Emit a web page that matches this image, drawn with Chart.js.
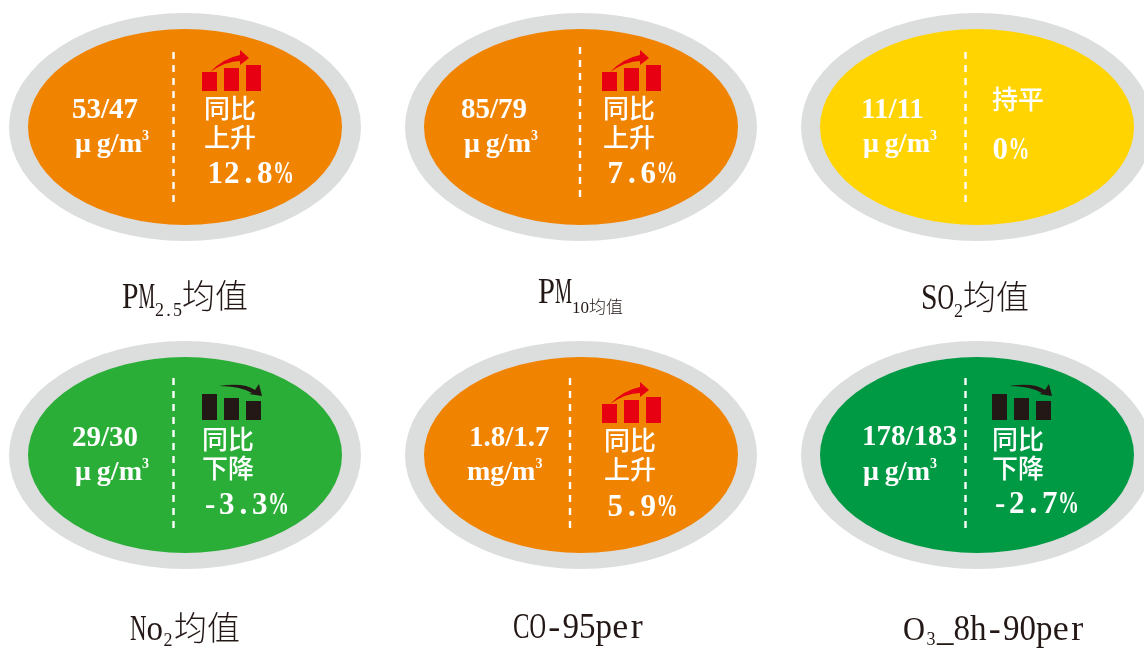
<!DOCTYPE html>
<html>
<head>
<meta charset="utf-8">
<style>
  html, body { margin: 0; padding: 0; background: #fff; overflow: hidden; }
  #page { position: relative; width: 1144px; height: 648px; overflow: hidden; }
  canvas { position: absolute; left: 0; top: 0; }
</style>
<script src="https://cdn.jsdelivr.net/npm/chart.js@4"></script>
</head>
<body>
<div id="page"></div>
<script>
// values
const currentValues = ["53", "85", "11", "29", "1.8", "178"];
const previousValues = ["47", "79", "11", "30", "1.7", "183"];
const changeValues = ["12.8", "7.6", "0", "-3.3", "5.9", "-2.7"];
const units = ["μg", "μg", "μg", "μg", "mg", "μg"];
const trendLines = [
  ["同比", "上升"], ["同比", "上升"], ["持平"],
  ["同比", "下降"], ["同比", "上升"], ["同比", "下降"]
];
const iconCategories = ["a", "b", "c"];
const iconValues = [
  [19, 23, 26], [19, 23, 26], [],
  [26, 22, 19], [19, 23, 26], [26, 22, 19]
];
const iconDirections = ["up", "up", "", "down", "up", "down"];
const captions = [
  [["PM", "big"], ["2.5", "sub"], ["均值", "cjk"]],
  [["PM", "bigHigh"], ["10", "subSerif"], ["均值", "cjkSmall"]],
  [["SO", "big"], ["2", "sub"], ["均值", "cjk"]],
  [["No", "big"], ["2", "subGap"], ["均值", "cjk"]],
  [["CO-95per", "big"]],
  [["O", "bigWide"], ["3", "subWide"], ["_8h-90per", "big"]]
];

// page layout, one row per tile
const fills = ["#F08300", "#F08300", "#FFD400", "#2BAE38", "#F08300", "#009A44"];
const tileLayout = [
  { cx: 185, cy: 127, dashX: 173.5, dashY: 52, iconX: 202, iconY: 91, valX: 72, valY: 118, unitX: 75, unitY: 152, textX: 204, textY: [118, 147], pctX: 207, pctY: 183, capX: 122, capY: 308 },
  { cx: 581, cy: 127, dashX: 580, dashY: 47, iconX: 602, iconY: 91, valX: 461, valY: 118, unitX: 464, unitY: 152, textX: 603, textY: [118, 147], pctX: 607, pctY: 183, capX: 538, capY: 308 },
  { cx: 977, cy: 127, dashX: 965.5, dashY: 52, iconX: 0, iconY: 0, valX: 861, valY: 118, unitX: 863, unitY: 152, textX: 992, textY: [109], pctX: 992, pctY: 159, capX: 921, capY: 309 },
  { cx: 185, cy: 455, dashX: 173.5, dashY: 378, iconX: 202, iconY: 420, valX: 72, valY: 446, unitX: 75, unitY: 480, textX: 202, textY: [449, 478], pctX: 202, pctY: 514, capX: 130, capY: 640 },
  { cx: 581, cy: 455, dashX: 570, dashY: 378, iconX: 602, iconY: 423, valX: 469, valY: 446, unitX: 467, unitY: 480, textX: 604, textY: [450, 479], pctX: 607, pctY: 516, capX: 513, capY: 638 },
  { cx: 977, cy: 455, dashX: 965.5, dashY: 378, iconX: 992, iconY: 420, valX: 862, valY: 445, unitX: 863, unitY: 480, textX: 992, textY: [449, 478], pctX: 992, pctY: 513, capX: 903, capY: 640 }
];
const captionStyles = {
  big: { font: "36px 'Liberation Serif'", cell: 16.5, dy: 0 },
  bigHigh: { font: "36px 'Liberation Serif'", cell: 17, dy: -5 },
  bigWide: { font: "34px 'Liberation Serif'", cell: 22, dy: 0 },
  sub: { font: "18px 'Liberation Serif'", cell: 9, dy: 8 },
  subGap: { font: "18px 'Liberation Serif'", cell: 10, dy: 6, gap: 1 },
  subWide: { font: "18px 'Liberation Serif'", cell: 12, dy: 5 },
  subSerif: { font: "17px 'Liberation Serif'", dy: 5 },
  cjk: { font: "300 33px 'Noto Sans CJK SC'", dy: 0 },
  cjkSmall: { font: "300 17px 'Noto Sans CJK SC'", dy: 5 }
};
const SERIF_BOLD = "bold 29px 'Liberation Serif'";
const UNIT_BOLD = "bold 28px 'Liberation Serif'";
const PCT_BOLD = "bold 31px 'Liberation Serif'";
const INK = "#231815";
const RED = "#E60012";

// draws text runs one after the other, a run with a cell is set monospaced
function drawRuns(ctx, x, y, runs) {
  runs.forEach((run) => {
    ctx.save();
    ctx.font = run.font;
    const by = y + (run.dy || 0);
    if (run.cell) {
      for (const ch of run.text) {
        const w = ctx.measureText(ch).width;
        const s = Math.min(1, run.cell / w);
        ctx.save();
        ctx.translate(x + (run.cell - w * s) / 2, by);
        ctx.scale(s, 1);
        ctx.fillText(ch, 0, 0);
        ctx.restore();
        x += run.cell;
      }
    } else {
      ctx.fillText(run.text, x, by);
      x += ctx.measureText(run.text).width;
    }
    x += run.gap || 0;
    ctx.restore();
  });
}

function drawArrow(ctx, x, y, direction, color) {
  // x, y = lower left corner of the first bar
  ctx.fillStyle = color;
  ctx.beginPath();
  if (direction === "up") {
    ctx.moveTo(x + 8, y - 19);
    ctx.quadraticCurveTo(x + 22, y - 33, x + 38, y - 36);
    ctx.lineTo(x + 38, y - 41);
    ctx.lineTo(x + 47, y - 33);
    ctx.lineTo(x + 38, y - 26);
    ctx.lineTo(x + 38, y - 30);
    ctx.quadraticCurveTo(x + 24, y - 30, x + 8, y - 19);
  } else {
    ctx.moveTo(x + 17, y - 34);
    ctx.quadraticCurveTo(x + 42, y - 38, x + 53, y - 30);
    ctx.lineTo(x + 57, y - 36);
    ctx.lineTo(x + 60, y - 24);
    ctx.lineTo(x + 47, y - 26);
    ctx.lineTo(x + 50, y - 27);
    ctx.quadraticCurveTo(x + 38, y - 34, x + 17, y - 34);
  }
  ctx.closePath();
  ctx.fill();
}

// ellipse and dashes go under the bars, all the text over them
const tilePlugin = {
  id: "tile",
  beforeDraw(chart, args, opts) {
    const ctx = chart.ctx;
    const t = tileLayout[opts.index];
    ctx.save();
    ctx.fillStyle = "#DCDDDD";
    ctx.beginPath();
    ctx.ellipse(t.cx, t.cy, 176, 114, 0, 0, Math.PI * 2);
    ctx.fill();
    ctx.fillStyle = fills[opts.index];
    ctx.beginPath();
    ctx.ellipse(t.cx, t.cy, 157, 98, 0, 0, Math.PI * 2);
    ctx.fill();
    ctx.strokeStyle = "#fff";
    ctx.lineWidth = 2.4;
    ctx.setLineDash([7, 6]);
    ctx.beginPath();
    ctx.moveTo(t.dashX, t.dashY);
    ctx.lineTo(t.dashX, t.dashY + 150);
    ctx.stroke();
    ctx.restore();
  },
  afterDatasetsDraw(chart, args, opts) {
    const ctx = chart.ctx;
    const i = opts.index;
    const t = tileLayout[i];
    ctx.save();
    if (iconDirections[i]) {
      drawArrow(ctx, t.iconX, t.iconY, iconDirections[i], iconDirections[i] === "up" ? RED : INK);
    }
    ctx.fillStyle = "#fff";
    ctx.textBaseline = "alphabetic";
    ctx.font = SERIF_BOLD;
    ctx.fillText(currentValues[i] + "/" + previousValues[i], t.valX, t.valY);
    const unitRuns = units[i] === "μg"
      ? [{ text: "μ", font: UNIT_BOLD, gap: 6 }, { text: "g/m", font: UNIT_BOLD }]
      : [{ text: "mg/m", font: UNIT_BOLD }];
    unitRuns.push({ text: "3", font: "bold 14px 'Liberation Serif'", dy: -12 });
    drawRuns(ctx, t.unitX, t.unitY, unitRuns);
    ctx.font = "500 26px 'Noto Sans CJK SC'";
    trendLines[i].forEach((line, n) => ctx.fillText(line, t.textX, t.textY[n]));
    drawRuns(ctx, t.pctX, t.pctY, [
      { text: changeValues[i], font: PCT_BOLD, cell: 16.5 },
      { text: "%", font: PCT_BOLD, cell: 21 }
    ]);
    ctx.fillStyle = INK;
    const capRuns = captions[i].map(([text, kind]) => Object.assign({ text }, captionStyles[kind]));
    drawRuns(ctx, t.capX, t.capY, capRuns);
    ctx.restore();
  }
};

const page = document.getElementById("page");
document.fonts.ready.then(() => {
  tileLayout.forEach((t, i) => {
    const canvas = document.createElement("canvas");
    canvas.width = 1144;
    canvas.height = 648;
    page.appendChild(canvas);
    const up = iconDirections[i] === "up";
    new Chart(canvas.getContext("2d"), {
      type: "bar",
      plugins: [tilePlugin],
      data: {
        labels: iconValues[i].length ? iconCategories : [],
        datasets: [{
          data: iconValues[i],
          backgroundColor: up ? RED : INK,
          categoryPercentage: 1,
          barPercentage: 15 / 22
        }]
      },
      options: {
        responsive: false,
        animation: false,
        layout: {
          // plot area is just the little bar icon inside the ellipse
          padding: {
            left: t.iconX - 3.5,
            right: 1144 - (t.iconX + 62.5),
            top: t.iconY - 26,
            bottom: 648 - t.iconY
          }
        },
        scales: {
          x: { display: false },
          y: { display: false, min: 0, max: 26 }
        },
        plugins: {
          legend: { display: false },
          tooltip: { enabled: false },
          tile: { index: i }
        }
      }
    });
  });
});
</script>
</body>
</html>
